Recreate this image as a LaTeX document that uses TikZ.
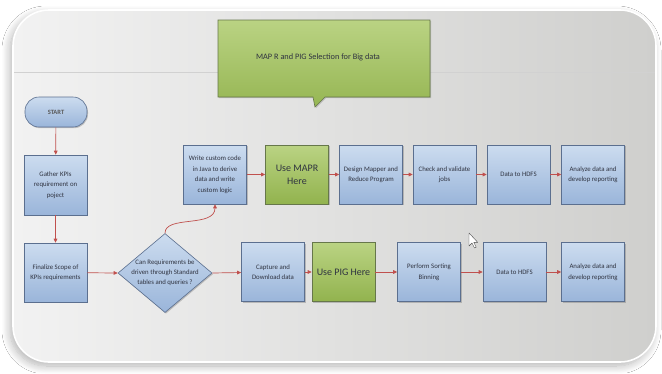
\documentclass[tikz,border=0pt]{standalone}
\usepackage{fontspec}
\setmainfont{Carlito}
\usetikzlibrary{shapes.geometric,arrows.meta,shadows,shadows.blur}

\definecolor{boxtop}{HTML}{CCDCEF}
\definecolor{boxbot}{HTML}{9AB5DA}
\definecolor{boxline}{HTML}{5B6F8F}
\definecolor{grntop}{HTML}{BAD383}
\definecolor{grnbot}{HTML}{92B34E}
\definecolor{grnline}{HTML}{66774A}
\definecolor{flow}{HTML}{C0504D}
\definecolor{ink}{HTML}{2F3340}
\definecolor{panelL}{HTML}{F2F2F2}
\definecolor{panelR}{HTML}{CFCFCD}

\tikzset{
  boxshadow/.style={drop shadow={shadow xshift=1pt,shadow yshift=-1.2pt,opacity=0.35,fill=black!60}},
  blk/.style={rectangle, draw=boxline, line width=0.6pt, top color=boxtop, bottom color=boxbot,
    minimum width=63pt, minimum height=59pt, inner sep=1pt, align=center,
    font=\fontsize{6.8}{10.5}\selectfont, text=ink, boxshadow},
  grn/.style={blk, draw=grnline, top color=grntop, bottom color=grnbot,
    font=\fontsize{10}{13}\selectfont},
  flowline/.style={draw=flow, line width=0.7pt, -{Triangle[length=4pt,width=3.6pt]}},
}

\begin{document}
\begin{tikzpicture}[x=1pt,y=-1pt]
\useasboundingbox (0,0) rectangle (662,373);
\fill[white] (0,0) rectangle (662,373);

% panel with soft shadow and glossy rim
\path[rounded corners=36pt, blur shadow={shadow xshift=-3pt,shadow yshift=-4pt,shadow blur radius=8pt,shadow blur steps=12,shadow opacity=30},
  left color=panelL, right color=panelR, draw=white, line width=1.6pt]
  (13,10) rectangle (656,362);
\draw[black!18, line width=0.5pt] (14,72) -- (655,72);

% title callout
\path[draw=grnline, line width=0.6pt, top color=grntop, bottom color=grnbot!90!grntop,
  drop shadow={shadow xshift=1pt,shadow yshift=-1.2pt,opacity=0.3,fill=black!60}]
  (218,20) -- (430,20) -- (430,97) -- (325,97) -- (315,107) -- (313,97) -- (218,97) -- cycle;
\node[font=\fontsize{8.3}{10}\selectfont, text=ink] (title) at (318,57) {MAP R and PIG Selection for Big data};

% left column
\node[blk, rounded corners=14pt, minimum width=62pt, minimum height=30pt,
  font=\fontsize{6.5}{8}\selectfont\bfseries, text=black!65] (start) at (56,112) {START};
\node[blk, minimum height=60pt] (gather) at (55.5,185) {Gather KPIs\\requirement on\\poject};
\node[blk] (final) at (55.5,272.5) {Finalize Scope of\\KPIs requirements};

% decision
\node[diamond, draw=boxline, line width=0.6pt, top color=boxtop, bottom color=boxbot,
  minimum width=94pt, minimum height=79pt, inner sep=0pt, boxshadow] (dec) at (165,273) {};
\node[align=center, font=\fontsize{6.8}{10}\selectfont, text=ink] (dectext) at (165,273)
  {Can Requirements be\\driven through Standard\\tables and queries ?};

% MapReduce row
\node[blk] (write) at (215,174.5) {Write custom code\\in Java to derive\\data and write\\custom logic};
\node[grn] (mapr) at (297,174.5) {Use MAPR\\Here};
\node[blk] (design) at (371,174.5) {Design Mapper and\\Reduce Program};
\node[blk] (check) at (444.5,174.5) {Check and validate\\jobs};
\node[blk] (hdfsA) at (518.5,174.5) {Data to HDFS};
\node[blk] (anaA) at (593,174.5) {Analyze data and\\develop reporting};

% Pig row
\node[blk] (capture) at (273,272) {Capture and\\Download data};
\node[grn] (pig) at (343.5,272) {Use PIG Here};
\node[blk] (sort) at (429,272) {Perform Sorting\\Binning};
\node[blk] (hdfsB) at (514.5,272) {Data to HDFS};
\node[blk] (anaB) at (593,272) {Analyze data and\\develop reporting};

% connectors
\draw[flowline] (start) -- (gather);
\draw[flowline] (gather) -- (final);
\draw[flowline] (final) -- (dec.west);
\draw[flowline] (dec.north) .. controls (165,215) and (215,228) .. (write.south);
\draw[flowline] (dec.east) -- (capture);
\draw[flowline] (write) -- (mapr);
\draw[flowline] (mapr) -- (design);
\draw[flowline] (design) -- (check);
\draw[flowline] (check) -- (hdfsA);
\draw[flowline] (hdfsA) -- (anaA);
\draw[flowline] (capture) -- (pig);
\draw[flowline] (pig) -- (sort);
\draw[flowline] (sort) -- (hdfsB);
\draw[flowline] (hdfsB) -- (anaB);

% pointer
\path[fill=white, draw=black!70, line width=0.4pt, line join=round]
  (469,233) -- (469,246) -- (472,243) -- (474.5,248) -- (476.2,247.2) -- (473.8,242.4) -- (477.8,242.4) -- cycle;
\end{tikzpicture}
\end{document}
